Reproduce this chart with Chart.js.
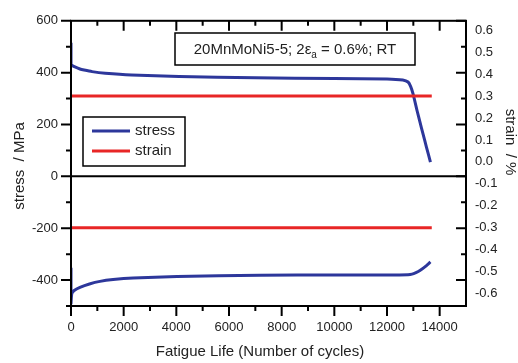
<!DOCTYPE html>
<html>
<head>
<meta charset="utf-8">
<script src="https://cdn.jsdelivr.net/npm/chart.js@4.4.1/dist/chart.umd.min.js"></script>
<style>
  body { margin: 0; background: #fff; }
</style>
</head>
<body>
<canvas id="canvas" width="518" height="363"></canvas>
<script>
/*
  Stress / strain vs fatigue life, 20MnMoNi5-5 at RT.
  Max and min stress of each cycle (blue, left axis)
  and the strain amplitude (red, right axis).
*/

// max stress per cycle (the upper blue curve)
let maxCycles = [0, 0, 60, 150, 340, 500, 800, 1300, 2300, 4100, 7000, 10000, 12000, 12600, 12800, 12900, 12990, 13140, 13255, 13370, 13500, 13650];
let maxStress = [515, 432, 427, 422, 414, 410, 404, 398, 391, 385, 380, 377, 376, 372, 364, 346, 318, 254, 208, 163, 112, 55];

// min stress per cycle (the lower blue curve)
let minCycles = [0, 0, 30, 120, 340, 700, 1100, 1600, 2360, 4030, 7180, 10000, 12000, 12800, 12950, 13100, 13250, 13500, 13650];
let minStress = [-352, -490, -452, -440, -428, -415, -405, -398, -392, -386, -381, -380, -380, -379, -377, -371, -363, -344, -330];

// strain amplitude, constant +/- 0.3 %
let strainCycles = [0, 13700];
let strainMax = [0.3, 0.3];
let strainMin = [-0.3, -0.3];

// tick labels
let xTicks = [0, 2000, 4000, 6000, 8000, 10000, 12000, 14000];
let stressTicks = [600, 400, 200, 0, -200, -400];
let strainTicks = [0.6, 0.5, 0.4, 0.3, 0.2, 0.1, 0.0, -0.1, -0.2, -0.3, -0.4, -0.5, -0.6];

let blue = 'rgb(45,55,155)';
let red = 'rgb(232,38,38)';
let font = 'Liberation Sans, Arial, sans-serif';

function points(xs, ys) {
  let p = [];
  for (let i = 0; i < xs.length; i++) {
    p.push({ x: xs[i], y: ys[i] });
  }
  return p;
}

function lineSet(data, color, axis) {
  return {
    data: data,
    yAxisID: axis,
    borderColor: color,
    borderWidth: 3,
    pointRadius: 0,
    showLine: true,
    tension: 0.2
  };
}

// frame, tick marks (major + minor), zero line, legend, note box and axis titles
let extras = {
  id: 'extras',
  afterDatasetsDraw(chart) {
    let ctx = chart.ctx;
    let a = chart.chartArea;
    let x = chart.scales.x;
    let y = chart.scales.y;

    ctx.save();
    ctx.strokeStyle = '#000';
    ctx.lineWidth = 2;

    // zero line
    let y0 = y.getPixelForValue(0);
    ctx.beginPath();
    ctx.moveTo(a.left, y0);
    ctx.lineTo(a.right, y0);
    ctx.stroke();

    // frame
    ctx.strokeRect(a.left, a.top, a.right - a.left, a.bottom - a.top);

    // x ticks: out at the bottom, in at the top
    for (let v = 0; v <= 14000; v += 1000) {
      let px = x.getPixelForValue(v);
      let len = (v % 2000 === 0) ? 10 : 5;
      ctx.beginPath();
      ctx.moveTo(px, a.bottom);
      ctx.lineTo(px, a.bottom + len);
      ctx.moveTo(px, a.top);
      ctx.lineTo(px, a.top + len);
      ctx.stroke();
    }

    // y ticks: out on the left, in on the right
    for (let v = -500; v <= 600; v += 100) {
      let py = y.getPixelForValue(v);
      let len = (v % 200 === 0) ? 10 : 5;
      ctx.beginPath();
      ctx.moveTo(a.left - len, py);
      ctx.lineTo(a.left, py);
      ctx.moveTo(a.right - len, py);
      ctx.lineTo(a.right, py);
      ctx.stroke();
    }

    // note box
    ctx.lineWidth = 1.5;
    ctx.fillStyle = '#fff';
    ctx.fillRect(175, 33, 240, 32);
    ctx.strokeRect(175, 33, 240, 32);
    ctx.fillStyle = '#222';
    ctx.textBaseline = 'alphabetic';
    ctx.textAlign = 'left';
    let t1 = '20MnMoNi5-5; 2\u03b5';
    let t2 = 'a';
    let t3 = ' = 0.6%; RT';
    ctx.font = '15px ' + font;
    let w1 = ctx.measureText(t1).width;
    let w3 = ctx.measureText(t3).width;
    ctx.font = '10px ' + font;
    let w2 = ctx.measureText(t2).width;
    let tx = 175 + (240 - w1 - w2 - w3) / 2;
    ctx.font = '15px ' + font;
    ctx.fillText(t1, tx, 54);
    ctx.font = '10px ' + font;
    ctx.fillText(t2, tx + w1, 58);
    ctx.font = '15px ' + font;
    ctx.fillText(t3, tx + w1 + w2, 54);

    // legend
    ctx.strokeStyle = '#000';
    ctx.strokeRect(83, 117, 102, 49);
    ctx.lineWidth = 3;
    ctx.strokeStyle = blue;
    ctx.beginPath();
    ctx.moveTo(92, 131);
    ctx.lineTo(130, 131);
    ctx.stroke();
    ctx.strokeStyle = red;
    ctx.beginPath();
    ctx.moveTo(92, 151);
    ctx.lineTo(130, 151);
    ctx.stroke();
    ctx.textBaseline = 'middle';
    ctx.fillText('stress', 135, 131);
    ctx.fillText('strain', 135, 151);

    // axis titles
    ctx.textAlign = 'center';
    ctx.fillText('Fatigue Life (Number of cycles)', 260, 352);
    ctx.save();
    ctx.translate(20, 166);
    ctx.rotate(-Math.PI / 2);
    ctx.fillText('stress  / MPa', 0, 0);
    ctx.restore();
    ctx.save();
    ctx.translate(510, 142);
    ctx.rotate(Math.PI / 2);
    ctx.fillText('strain  / %', 0, 0);
    ctx.restore();

    ctx.restore();
  }
};

let tickFont = { family: font, size: 13 };

let options = {
  type: 'scatter',
  data: {
    datasets: [
      lineSet(points(strainCycles, strainMax), red, 'y2'),
      lineSet(points(strainCycles, strainMin), red, 'y2'),
      lineSet(points(maxCycles, maxStress), blue, 'y'),
      lineSet(points(minCycles, minStress), blue, 'y')
    ]
  },
  options: {
    responsive: false,
    animation: false,
    layout: { padding: { top: 19 } },
    plugins: {
      legend: { display: false },
      tooltip: { enabled: false }
    },
    scales: {
      x: {
        type: 'linear',
        min: 0,
        max: 15000,
        afterBuildTicks: s => { s.ticks = xTicks.map(v => ({ value: v })); },
        afterFit: s => { s.height = 57; },
        ticks: {
          font: tickFont, color: '#222', padding: 14, maxRotation: 0, autoSkip: false,
          callback: v => String(v)
        },
        grid: { display: false, drawTicks: false },
        border: { display: false }
      },
      y: {
        position: 'left',
        min: -500,
        max: 600,
        afterBuildTicks: s => { s.ticks = stressTicks.map(v => ({ value: v })); },
        afterFit: s => { s.width = 71; },
        ticks: { font: tickFont, color: '#222', padding: 13, autoSkip: false },
        grid: { display: false, drawTicks: false },
        border: { display: false }
      },
      y2: {
        position: 'right',
        min: -0.657,
        max: 0.643,
        afterBuildTicks: s => { s.ticks = strainTicks.map(v => ({ value: v })); },
        afterFit: s => { s.width = 52; },
        ticks: {
          font: tickFont, color: '#222', padding: 9, autoSkip: false,
          callback: v => v.toFixed(1)
        },
        grid: { display: false, drawTicks: false },
        border: { display: false }
      }
    }
  },
  plugins: [extras]
};

let chart = new Chart(document.getElementById('canvas'), options);
</script>
</body>
</html>
